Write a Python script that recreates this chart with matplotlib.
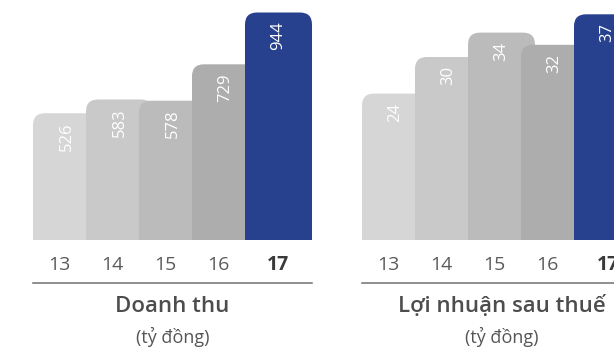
import matplotlib.pyplot as plt
from matplotlib.patches import FancyBboxPatch
from matplotlib.transforms import blended_transform_factory

plt.rcParams['font.family'] = ['Open Sans', 'DejaVu Sans']

# Data
years = ['13', '14', '15', '16', '17']
revenue = [526, 583, 578, 729, 944]
profit = [24, 30, 34, 32, 37]
titles = ['Doanh thu', 'Lợi nhuận sau thuế']
unit = '(tỷ đồng)'
colors = ['#d6d6d6', '#c9c9c9', '#bbbbbb', '#adadad', '#27418f']

# Layout in pixels
W, H = 614, 349
step_px = 53
bar_px = 67          # bars are wider than the step, the next one overlaps
base_px = 240
radius_px = 12
bar_w = bar_px / step_px

fig = plt.figure(figsize=(W / 100, H / 100), dpi=100)


def panel(left_px, values, px_per_unit, title):
    n = len(values)
    width_px = (n - 1) * step_px + bar_px
    ymax = base_px / px_per_unit
    ax = fig.add_axes([left_px / W, (H - base_px) / H, width_px / W, base_px / H])
    ax.set_xlim(0, n - 1 + bar_w)
    ax.set_ylim(0, ymax)
    for s in ax.spines.values():
        s.set_visible(False)
    ax.set_xticks([])
    ax.set_yticks([])
    ax.patch.set_alpha(0)

    aspect = step_px / px_per_unit
    ext = ymax * 0.2
    for i, v in enumerate(values):
        box = FancyBboxPatch((i, -ext), bar_w, v + ext,
                             boxstyle=f'round,pad=0,rounding_size={radius_px / step_px}',
                             mutation_aspect=aspect, fc=colors[i], ec='none', lw=0)
        ax.add_patch(box)
        ax.annotate(str(v), xy=(i + bar_w / 2, v), xytext=(0, -6.5),
                    textcoords='offset points', rotation=90, ha='center', va='top',
                    color='white', fontsize=12)

    tr = blended_transform_factory(ax.transData, ax.transAxes)
    for i, yr in enumerate(years):
        right = min(i + 1, i + bar_w) if i < n - 1 else i + bar_w
        cx = (i + right) / 2
        last = i == n - 1
        ax.text(cx, -30 / base_px, yr, transform=tr, ha='center', va='baseline',
                fontsize=14, color='#3a3a3a' if last else '#5a5a5a',
                fontweight='bold' if last else 'normal')

    ax.plot([0, 1], [-43 / base_px] * 2, transform=ax.transAxes, clip_on=False,
            color='#707070', lw=1.1)
    ax.text(0.5, -72 / base_px, title, transform=ax.transAxes, ha='center',
            va='baseline', fontsize=16, fontweight='semibold', color='#4d4d4d')
    ax.text(0.5, -103 / base_px, unit, transform=ax.transAxes, ha='center',
            va='baseline', fontsize=13, color='#555555')
    return ax


panel(33, revenue, 0.241, titles[0])
panel(362, profit, 6.1, titles[1])

fig.savefig('out.png', dpi=100)
